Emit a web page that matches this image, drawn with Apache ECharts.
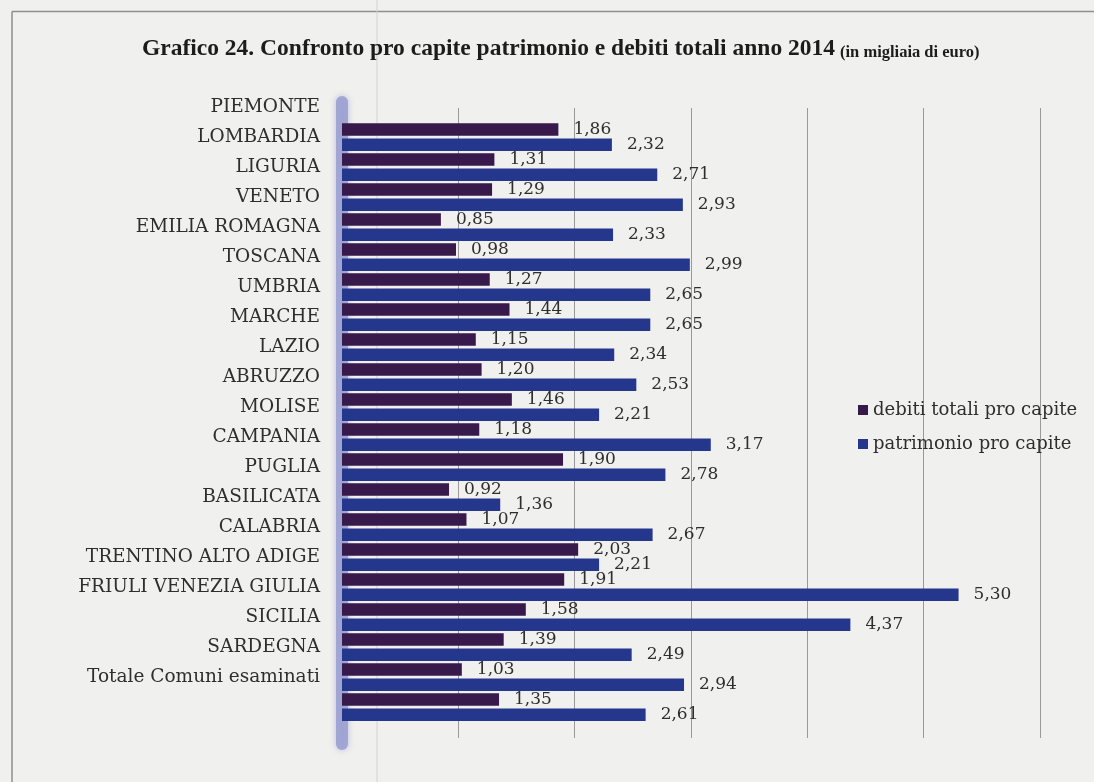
<!DOCTYPE html>
<html>
<head>
<meta charset="utf-8">
<script src="https://cdn.jsdelivr.net/npm/echarts@6/dist/echarts.min.js"></script>
<style>
html,body{margin:0;padding:0;background:#f0f0ee;}
#chart{width:1094px;height:782px;}
</style>
</head>
<body>
<div id="chart"></div>
<script>
const categories = ["PIEMONTE","LOMBARDIA","LIGURIA","VENETO","EMILIA ROMAGNA","TOSCANA","UMBRIA","MARCHE","LAZIO","ABRUZZO","MOLISE","CAMPANIA","PUGLIA","BASILICATA","CALABRIA","TRENTINO ALTO ADIGE","FRIULI VENEZIA GIULIA","SICILIA","SARDEGNA","Totale Comuni esaminati"];
const debitiTotali = [1.86,1.31,1.29,0.85,0.98,1.27,1.44,1.15,1.20,1.46,1.18,1.90,0.92,1.07,2.03,1.91,1.58,1.39,1.03,1.35];
const patrimonio = [2.32,2.71,2.93,2.33,2.99,2.65,2.65,2.34,2.53,2.21,3.17,2.78,1.36,2.67,2.21,5.30,4.37,2.49,2.94,2.61];
const seriesNames = ["debiti totali pro capite","patrimonio pro capite"];
const titleMain = "Grafico 24. Confronto pro capite patrimonio e debiti totali anno 2014";
const titleSub = "(in migliaia di euro)";

const fmt = p => p.value.toFixed(2).replace('.', ',');
const chart = echarts.init(document.getElementById('chart'));
const labelStyle = {show:true, position:'right', distance:15, fontFamily:'DejaVu Serif', fontSize:17, color:'#2e2e2e', formatter: fmt};
chart.setOption({
  backgroundColor:'#f0f0ee',
  animation:false,
  title:{
    left:137, top:30,
    text:'{a|' + titleMain + '} {b|' + titleSub + '}',
    textStyle:{
      rich:{
        a:{fontFamily:'Liberation Serif', fontWeight:'bold', fontSize:23.5, color:'#1c1c1c', verticalAlign:'bottom', lineHeight:26},
        b:{fontFamily:'Liberation Serif', fontWeight:'bold', fontSize:16.5, color:'#1c1c1c', verticalAlign:'bottom', lineHeight:24}
      }
    }
  },
  legend:{
    orient:'vertical', left:853, top:396, itemWidth:10, itemHeight:10, itemGap:16,
    icon:'rect',
    textStyle:{fontFamily:'DejaVu Serif', fontSize:18, color:'#2e2e2e'},
    data:seriesNames
  },
  graphic:[
    {type:'line', z:0, shape:{x1:12,y1:11.5,x2:1094,y2:11.5}, style:{stroke:'#8e8e8e', lineWidth:1.5}},
    {type:'line', z:0, shape:{x1:12,y1:11.5,x2:12,y2:782}, style:{stroke:'#8e8e8e', lineWidth:1.5}},
    {type:'line', z:0, shape:{x1:377,y1:0,x2:377,y2:782}, style:{stroke:'#d2d2d2', lineWidth:1}}
  ],
  grid:[
    {left:342, right:54, top:102, bottom:38},
    {left:342, right:54, top:122, height:600},
    {left:342, right:54, top:108, bottom:44}
  ],
  xAxis:[
    {gridIndex:0, type:'value', min:0, max:6, interval:1, show:false},
    {gridIndex:1, type:'value', min:0, max:6, interval:1, show:false},
    {gridIndex:2, type:'value', min:0, max:6, interval:1, axisLine:{show:false}, axisTick:{show:false}, axisLabel:{show:false},
     splitLine:{show:true, lineStyle:{color:'#999', width:1}}}
  ],
  yAxis:[
    {gridIndex:0, type:'category', data:[''], offset:2, axisTick:{show:false}, axisLabel:{show:false},
     axisLine:{show:true, lineStyle:{color:'#9ca1d2', width:12, opacity:0.9, shadowBlur:6, shadowColor:'#b4b8de'}}},
    {gridIndex:1, type:'category', data:categories, inverse:true,
     axisLine:{show:false}, axisTick:{show:false},
     axisLabel:{margin:22, interval:0,
       formatter: v => '{a|' + v + '}\n{s| }',
       rich:{
         a:{fontFamily:'DejaVu Serif', fontSize:18.5, color:'#2e2e2e', lineHeight:30, align:'right'},
         s:{fontSize:10, lineHeight:60, height:60}
       }}},
    {gridIndex:2, type:'category', data:[''], show:false}
  ],
  series:[
    {name:seriesNames[0], type:'bar', xAxisIndex:1, yAxisIndex:1, data:debitiTotali, barWidth:12.5, barGap:'22%',
     itemStyle:{color:'#371a4b'}, label:labelStyle},
    {name:seriesNames[1], type:'bar', xAxisIndex:1, yAxisIndex:1, data:patrimonio, barWidth:12.5, barGap:'22%',
     itemStyle:{color:'#25378d'}, label:labelStyle}
  ]
});
</script>
</body>
</html>
